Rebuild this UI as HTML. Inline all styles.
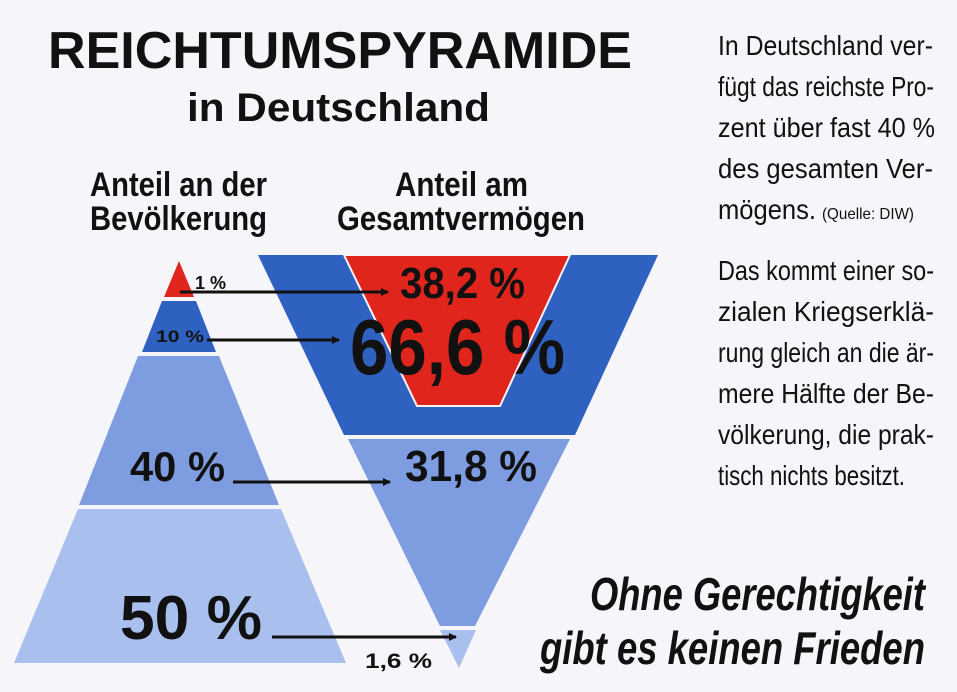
<!DOCTYPE html>
<html><head><meta charset="utf-8"><style>
html,body{margin:0;padding:0;background:#f5f5fa;}
svg{display:block}
text{font-family:"Liberation Sans",sans-serif;font-weight:bold;fill:#111;}
</style></head><body>
<svg width="957" height="692" viewBox="0 0 957 692" xmlns="http://www.w3.org/2000/svg">
<rect width="957" height="692" fill="#f5f5fa"/>
<defs><marker id="ah" markerWidth="8" markerHeight="8" refX="7" refY="4" orient="auto" markerUnits="userSpaceOnUse"><path d="M0,0 L8,4 L0,8 z" fill="#111"/></marker></defs>
<text x="48" y="68" font-size="52" textLength="584" lengthAdjust="spacingAndGlyphs">REICHTUMSPYRAMIDE</text>
<text x="187" y="121" font-size="40" textLength="303" lengthAdjust="spacingAndGlyphs">in Deutschland</text>
<text x="90" y="196" font-size="34" textLength="177" lengthAdjust="spacingAndGlyphs">Anteil an der</text>
<text x="90" y="230" font-size="34" textLength="177" lengthAdjust="spacingAndGlyphs">Bevölkerung</text>
<text x="395" y="196" font-size="34" textLength="133" lengthAdjust="spacingAndGlyphs">Anteil am</text>
<text x="337" y="230" font-size="34" textLength="248" lengthAdjust="spacingAndGlyphs">Gesamtvermögen</text>
<polygon points="179,261 194,297 164,297" fill="#e0261c"/>
<polygon points="162,301 196,301 216,352 142,352" fill="#2f62c0"/>
<polygon points="138,356 219,356 279,505 79,505" fill="#7e9de0"/>
<polygon points="78,509 281,509 346,663 14,663" fill="#a9bfee"/>
<polygon points="258,255 658,255 575,435 344,435" fill="#2f62c0"/>
<polygon points="344,255 570,255 500,406 417,406" fill="#e0261c" stroke="#f5f5fa" stroke-width="2"/>
<polygon points="348,439 570,439 475,626 440,626" fill="#7e9de0"/>
<polygon points="440,630 476,630 459,668" fill="#a9bfee"/>
<text x="195" y="289" font-size="18">1 %</text>
<text x="156" y="342" font-size="17" textLength="48" lengthAdjust="spacingAndGlyphs">10 %</text>
<text x="130" y="481" font-size="42" textLength="95" lengthAdjust="spacingAndGlyphs">40 %</text>
<text x="120" y="639" font-size="62" textLength="142" lengthAdjust="spacingAndGlyphs">50 %</text>
<text x="365" y="668" font-size="21" textLength="67" lengthAdjust="spacingAndGlyphs">1,6 %</text>
<text x="400" y="298" font-size="44" textLength="125" lengthAdjust="spacingAndGlyphs">38,2 %</text>
<text x="350" y="374" font-size="78" textLength="215" lengthAdjust="spacingAndGlyphs">66,6 %</text>
<text x="405" y="481" font-size="44" textLength="132" lengthAdjust="spacingAndGlyphs">31,8 %</text>
<g stroke="#111" stroke-width="3" marker-end="url(#ah)">
<line x1="180" y1="292" x2="388" y2="292"/>
<line x1="207" y1="340" x2="339" y2="340"/>
<line x1="233" y1="482" x2="390" y2="482"/>
<line x1="272" y1="637" x2="456" y2="637"/>
</g>
<g font-size="28">
<text x="718" y="55" style="font-weight:normal" textLength="215" lengthAdjust="spacingAndGlyphs">In Deutschland ver-</text>
<text x="718" y="96" style="font-weight:normal" textLength="216" lengthAdjust="spacingAndGlyphs">fügt das reichste Pro-</text>
<text x="718" y="137" style="font-weight:normal" textLength="217" lengthAdjust="spacingAndGlyphs">zent über fast 40 %</text>
<text x="718" y="178" style="font-weight:normal" textLength="215" lengthAdjust="spacingAndGlyphs">des gesamten Ver-</text>
<text x="718" y="219" style="font-weight:normal" textLength="98" lengthAdjust="spacingAndGlyphs">mögens.</text>
<text x="822" y="219" font-size="16" style="font-weight:normal" textLength="92" lengthAdjust="spacingAndGlyphs">(Quelle: DIW)</text>
<text x="718" y="280" style="font-weight:normal" textLength="216" lengthAdjust="spacingAndGlyphs">Das kommt einer so-</text>
<text x="718" y="321" style="font-weight:normal" textLength="216" lengthAdjust="spacingAndGlyphs">zialen  Kriegserklä-</text>
<text x="718" y="362" style="font-weight:normal" textLength="216" lengthAdjust="spacingAndGlyphs">rung gleich an die är-</text>
<text x="718" y="403" style="font-weight:normal" textLength="216" lengthAdjust="spacingAndGlyphs">mere Hälfte der Be-</text>
<text x="718" y="444" style="font-weight:normal" textLength="216" lengthAdjust="spacingAndGlyphs">völkerung, die prak-</text>
<text x="718" y="485" style="font-weight:normal" textLength="187" lengthAdjust="spacingAndGlyphs">tisch nichts besitzt.</text>
</g>
<text x="590" y="610" font-size="46" font-style="italic" textLength="335" lengthAdjust="spacingAndGlyphs">Ohne Gerechtigkeit</text>
<text x="540" y="664" font-size="46" font-style="italic" textLength="385" lengthAdjust="spacingAndGlyphs">gibt es keinen Frieden</text>
</svg>
</body></html>
